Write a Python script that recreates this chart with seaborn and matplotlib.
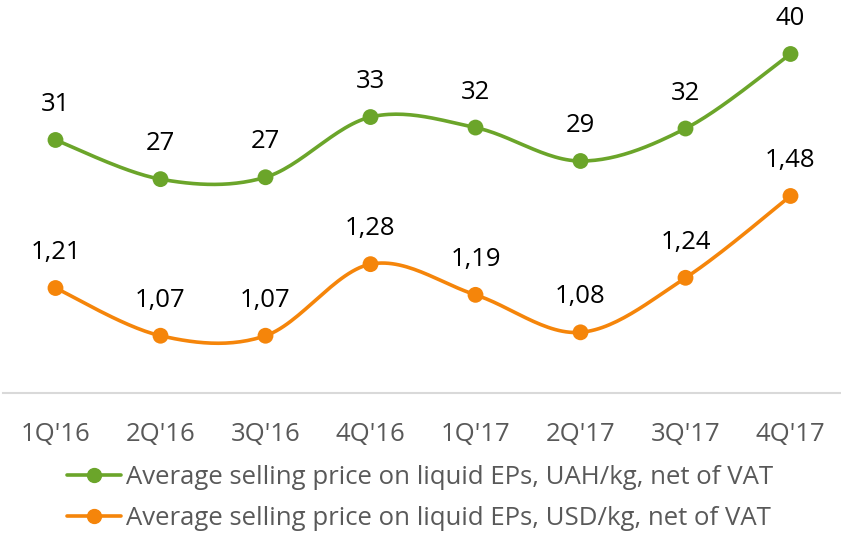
import numpy as np
import seaborn as sns
import matplotlib.pyplot as plt
from matplotlib.lines import Line2D

quarters = ["1Q'16", "2Q'16", "3Q'16", "4Q'16", "1Q'17", "2Q'17", "3Q'17", "4Q'17"]
price_uah = [31.0, 26.9, 27.1, 33.4, 32.3, 28.8, 32.2, 40.0]
price_usd = [1.21, 1.07, 1.07, 1.28, 1.19, 1.08, 1.24, 1.48]
label_uah = 'Average selling price on liquid EPs, UAH/kg, net of VAT'
label_usd = 'Average selling price on liquid EPs, USD/kg, net of VAT'

GREEN = '#6ba52a'
ORANGE = '#f5850a'
GREY_TEXT = '#595959'
FONT = 'Open Sans'


def smooth_curve(values, steps=30):
    """
    Excel-like smoothed line (Catmull-Rom style bezier through every point).
    :param values: list
    :param steps: int
    :return: tuple of arrays
    """
    pts = np.column_stack([np.arange(len(values)), values]).astype(float)
    padded = np.vstack([pts[0], pts, pts[-1]])
    t = np.linspace(0, 1, steps)[:, None]
    out = []
    for i in range(len(pts) - 1):
        p0, p1, p2, p3 = padded[i], padded[i + 1], padded[i + 2], padded[i + 3]
        c1 = p1 + (p2 - p0) / 6
        c2 = p2 - (p3 - p1) / 6
        seg = ((1 - t) ** 3) * p1 + 3 * ((1 - t) ** 2) * t * c1 + 3 * (1 - t) * t ** 2 * c2 + t ** 3 * p2
        out.append(seg if i == 0 else seg[1:])
    curve = np.vstack(out)
    return curve[:, 0], curve[:, 1]


def draw_series(ax, values, color, fmt):
    xs, ys = smooth_curve(values)
    sns.lineplot(x=xs, y=ys, ax=ax, color=color, linewidth=2.6, sort=False,
                 estimator=None, legend=False)
    idx = np.arange(len(values))
    sns.scatterplot(x=idx, y=values, ax=ax, color=color, s=130, edgecolor='none',
                    zorder=5, legend=False)
    for i, v in zip(idx, values):
        ax.annotate(fmt(v), (i, v), xytext=(0, 25.5), textcoords='offset points',
                    ha='center', va='center', fontsize=18.5, color='black', family=FONT)


sns.set_style('white')
plt.rcParams['font.family'] = [FONT, 'DejaVu Sans']

fig = plt.figure(figsize=(8.41, 5.33), dpi=100)
ax = fig.add_axes([3 / 841, 140 / 533, 840 / 841, 393 / 533])
ax2 = ax.twinx()

draw_series(ax, price_uah, GREEN, lambda v: '{:.0f}'.format(v))
draw_series(ax2, price_usd, ORANGE, lambda v: '{:.2f}'.format(v).replace('.', ','))

ax.set_xlim(-0.5, len(quarters) - 0.5)
ax.set_ylim(4.52, 45.65)
ax2.set_ylim(0.902, 2.055)

for a in (ax, ax2):
    for side in ('top', 'right', 'left'):
        a.spines[side].set_visible(False)
    a.set_yticks([])
    a.set_ylabel('')
ax2.spines['bottom'].set_visible(False)
ax.spines['bottom'].set_color('#d9d9d9')
ax.spines['bottom'].set_linewidth(1.5)

ax.set_xticks(range(len(quarters)))
ax.set_xticklabels(quarters, fontsize=18.5, color=GREY_TEXT)
ax.set_xticks(np.arange(-0.5, len(quarters)), minor=True)
ax.tick_params(axis='x', which='major', length=0, pad=21)
ax.tick_params(axis='x', which='minor', length=6.5, width=1.5, color='#d9d9d9')

handles = [
    Line2D([], [], color=GREEN, lw=2.6, marker='o', markersize=10),
    Line2D([], [], color=ORANGE, lw=2.6, marker='o', markersize=10),
]
leg = fig.legend(handles, [label_uah, label_usd], loc='center', bbox_to_anchor=(0.5, 0.066),
                 frameon=False, fontsize=18.5, handlelength=2.1, handletextpad=0.2,
                 labelspacing=0.6, borderaxespad=0)
for txt in leg.get_texts():
    txt.set_color(GREY_TEXT)

fig.savefig('out.png', dpi=100)
